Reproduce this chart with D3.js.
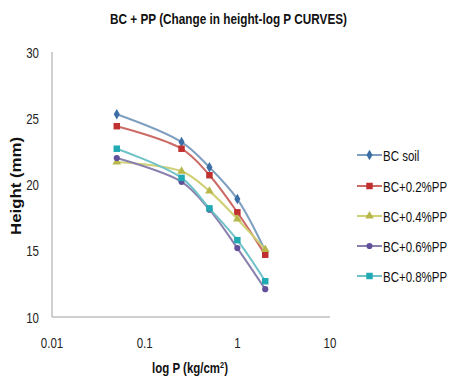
<!DOCTYPE html>
<html><head><meta charset="utf-8">
<script src="https://cdn.jsdelivr.net/npm/d3@7"></script>
<style>
body{margin:0;background:#fff;}
text{font-family:"Liberation Sans",Arial,sans-serif;}
</style></head>
<body><svg id="c" width="464" height="380"></svg>
<script>
const pressures = [0.05, 0.25, 0.5, 1, 2];
const seriesNames = ["BC soil", "BC+0.2%PP", "BC+0.4%PP", "BC+0.6%PP", "BC+0.8%PP"];
const bcSoil = [25.3, 23.2, 21.3, 18.9, 15.0];
const bc02 = [24.4, 22.7, 20.7, 17.9, 14.7];
const bc04 = [21.7, 21.0, 19.5, 17.4, 15.1];
const bc06 = [22.0, 20.2, 18.1, 15.2, 12.1];
const bc08 = [22.7, 20.5, 18.2, 15.8, 12.7];
const xTicks = [0.01, 0.1, 1, 10];
const yTicks = [10, 15, 20, 25, 30];

const seriesValues = [bcSoil, bc02, bc04, bc06, bc08];
const lineColors = ["#7e9fc0", "#cc6a66", "#cfcf73", "#8a80ae", "#6ec2c8"];
const markColors = ["#3b6ea5", "#c0302e", "#b8b84a", "#62509a", "#22aab4"];
const shapes = [d3.symbolDiamond, d3.symbolSquare, d3.symbolTriangle, d3.symbolCircle, d3.symbolSquare];
const sizes = [32, 42, 32, 30, 42];

const svg = d3.select("#c");
const x = d3.scaleLog().domain([0.01, 10]).range([52, 330]);
const y = d3.scaleLinear().domain([10, 30]).range([317, 52]);

function condense(sel, f) {
  sel.each(function() {
    const w = this.getComputedTextLength();
    d3.select(this).attr("textLength", w * f).attr("lengthAdjust", "spacingAndGlyphs");
  });
}

svg.append("text").attr("x", 228.5).attr("y", 24).attr("text-anchor", "middle")
  .attr("font-weight", "bold").attr("font-size", 15).attr("fill", "#111")
  .attr("textLength", 237).attr("lengthAdjust", "spacingAndGlyphs")
  .text("BC + PP (Change in height-log P CURVES)");

// axes lines
svg.append("line").attr("x1", x(0.01)).attr("x2", x(0.01)).attr("y1", y(30)).attr("y2", y(10)).attr("stroke", "#a0a0a0");
svg.append("line").attr("x1", x(0.01)).attr("x2", x(10)).attr("y1", y(10)).attr("y2", y(10)).attr("stroke", "#a0a0a0");

svg.selectAll(".yt").data(yTicks).enter().append("text").attr("class", "yt")
  .attr("x", 39).attr("y", d => y(d) + 5.5).attr("text-anchor", "end")
  .attr("font-size", 14).attr("fill", "#222").text(d => d).call(condense, 0.82);
svg.selectAll(".xt").data(xTicks).enter().append("text").attr("class", "xt")
  .attr("x", d => x(d)).attr("y", 348).attr("text-anchor", "middle")
  .attr("font-size", 14).attr("fill", "#222").text(d => d).call(condense, 0.82);

svg.append("text").attr("transform", "translate(20.5,186) rotate(-90)").attr("text-anchor", "middle")
  .attr("font-weight", "bold").attr("font-size", 14).attr("fill", "#111")
  .attr("textLength", 98).attr("lengthAdjust", "spacingAndGlyphs").text("Height (mm)");
const xl = svg.append("g").attr("transform", "translate(190,373) scale(0.82,1)")
  .append("text").attr("x", 0).attr("y", 0).attr("text-anchor", "middle")
  .attr("font-weight", "bold").attr("font-size", 14).attr("fill", "#111");
xl.append("tspan").text("log P (kg/cm");
xl.append("tspan").attr("font-size", 9).attr("dy", -5).text("2");
xl.append("tspan").attr("dy", 5).text(")");

const line = d3.line().x((d, i) => x(pressures[i])).y(d => y(d)).curve(d3.curveCatmullRom.alpha(0.5));

seriesValues.forEach((vals, s) => {
  svg.append("path").attr("d", line(vals)).attr("fill", "none")
    .attr("stroke", lineColors[s]).attr("stroke-width", 2);
  svg.selectAll(".m" + s).data(vals).enter().append("path")
    .attr("d", d3.symbol().type(shapes[s]).size(sizes[s]))
    .attr("transform", (d, i) => `translate(${x(pressures[i])},${y(d)})`)
    .attr("fill", markColors[s]);
});

// legend
const legY = [155, 186, 216, 246, 276];
seriesNames.forEach((n, s) => {
  const g = svg.append("g").attr("transform", `translate(357,${legY[s]})`);
  g.append("line").attr("x1", 0).attr("x2", 25).attr("stroke", lineColors[s]).attr("stroke-width", 2);
  g.append("path").attr("d", d3.symbol().type(shapes[s]).size(sizes[s])).attr("transform", "translate(12.5,0)").attr("fill", markColors[s]);
  g.append("text").attr("x", 26).attr("y", 5.5).attr("font-size", 14).attr("fill", "#111").text(n).call(condense, 0.82);
});
</script></body></html>
